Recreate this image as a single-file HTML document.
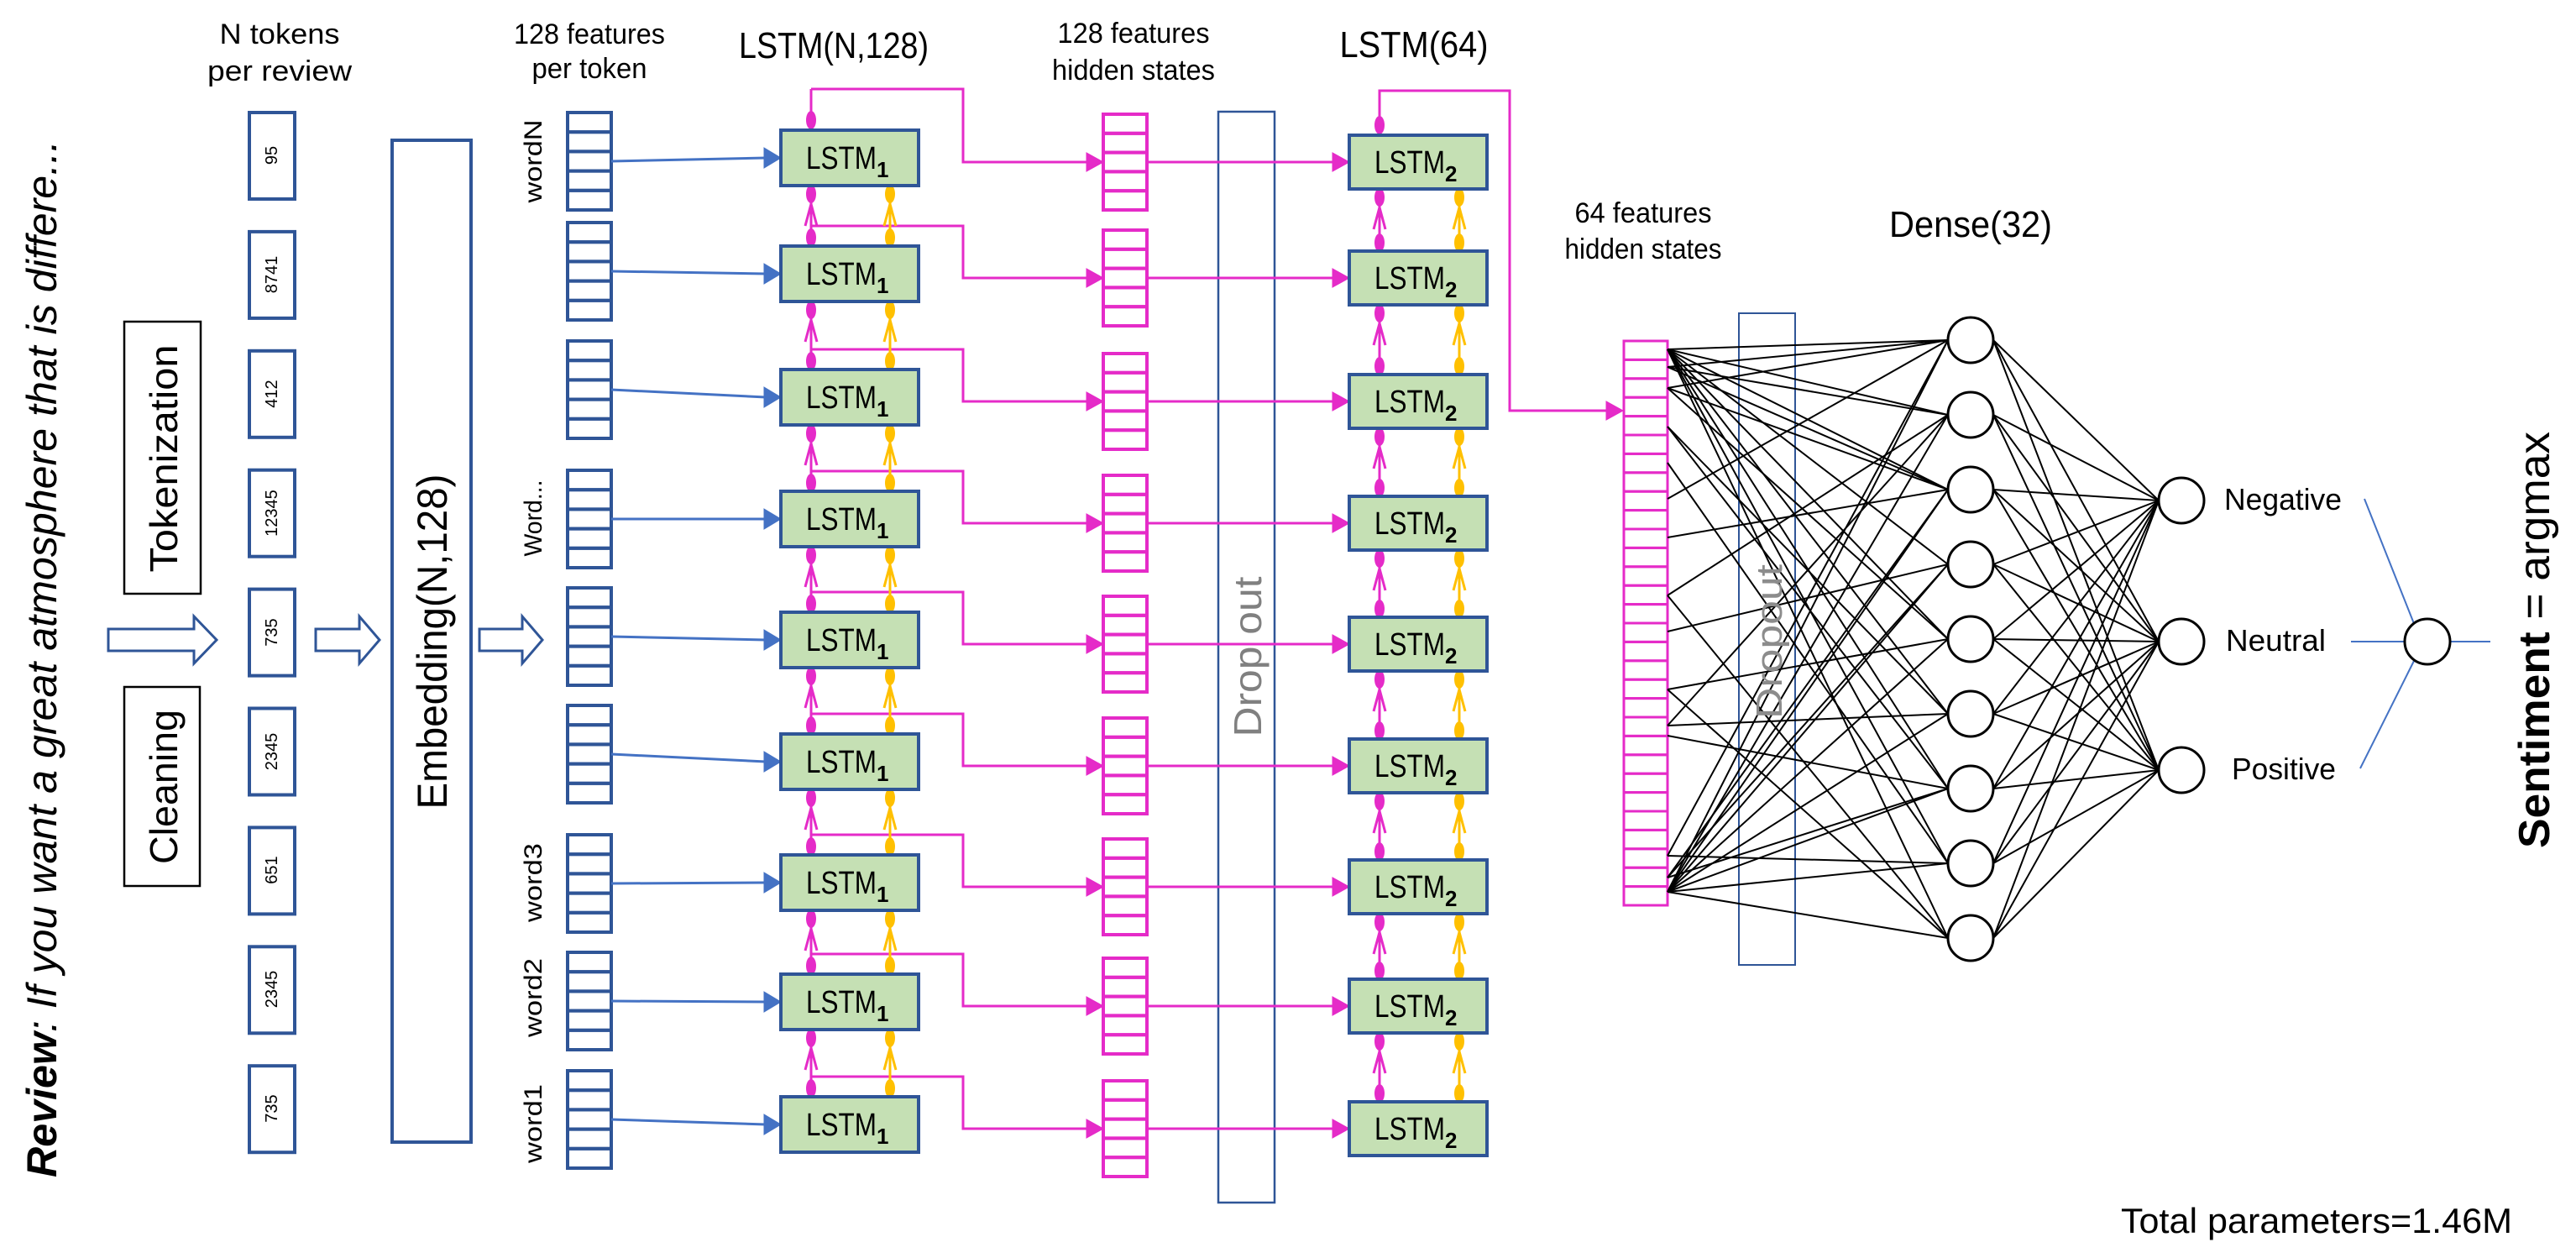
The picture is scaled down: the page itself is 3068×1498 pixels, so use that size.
<!DOCTYPE html>
<html><head><meta charset="utf-8"><style>
html,body{margin:0;padding:0;background:#fff;}
svg{display:block;font-family:"Liberation Sans",sans-serif;}
</style></head><body>
<svg id="s" width="3068" height="1498" viewBox="0 0 3068 1498" xmlns="http://www.w3.org/2000/svg">
<rect width="3068" height="1498" fill="#fff"/>
<g id="shapes"></g>
<g id="txt" fill="#000" lengthAdjust="spacingAndGlyphs">
<text transform="translate(67,1402) rotate(-90)" font-size="50" font-style="italic" textLength="1235" lengthAdjust="spacingAndGlyphs"><tspan font-weight="bold">Review</tspan>: If you want a great atmosphere that is differe...</text>
<text transform="translate(211,546) rotate(-90)" font-size="46" text-anchor="middle" textLength="271" lengthAdjust="spacingAndGlyphs">Tokenization</text>
<text transform="translate(211,937) rotate(-90)" font-size="46" text-anchor="middle" textLength="184" lengthAdjust="spacingAndGlyphs">Cleaning</text>
<text transform="translate(532,764) rotate(-90)" font-size="50" text-anchor="middle" textLength="399" lengthAdjust="spacingAndGlyphs">Embedding(N,128)</text>
<text transform="translate(3036,762) rotate(-90)" font-size="52" text-anchor="middle" textLength="496" lengthAdjust="spacingAndGlyphs"><tspan font-weight="bold">Sentiment</tspan> = argmax</text>

<g font-size="20" text-anchor="middle" dominant-baseline="central">
<text transform="translate(324,185) rotate(-90)">95</text>
<text transform="translate(324,327) rotate(-90)">8741</text>
<text transform="translate(324,469) rotate(-90)">412</text>
<text transform="translate(324,611) rotate(-90)">12345</text>
<text transform="translate(324,753) rotate(-90)">735</text>
<text transform="translate(324,895) rotate(-90)">2345</text>
<text transform="translate(324,1036) rotate(-90)">651</text>
<text transform="translate(324,1178) rotate(-90)">2345</text>
<text transform="translate(324,1320) rotate(-90)">735</text>
</g>

<g font-size="30" text-anchor="middle">
<text transform="translate(645,192) rotate(-90)" textLength="99" lengthAdjust="spacingAndGlyphs">wordN</text>
<text transform="translate(645,617) rotate(-90)" textLength="91" lengthAdjust="spacingAndGlyphs">Word...</text>
<text transform="translate(645,1051) rotate(-90)" textLength="94" lengthAdjust="spacingAndGlyphs">word3</text>
<text transform="translate(645,1188) rotate(-90)" textLength="94" lengthAdjust="spacingAndGlyphs">word2</text>
<text transform="translate(645,1338) rotate(-90)" textLength="94" lengthAdjust="spacingAndGlyphs">word1</text>
</g>

<text transform="translate(1502,782) rotate(-90)" font-size="46" fill="#808080" text-anchor="middle" textLength="191" lengthAdjust="spacingAndGlyphs">Drop out</text>

<g text-anchor="middle" font-size="34">
<text x="333" y="52" textLength="143" lengthAdjust="spacingAndGlyphs">N tokens</text>
<text x="333" y="96" textLength="172" lengthAdjust="spacingAndGlyphs">per review</text>
<text x="702" y="52" textLength="180" lengthAdjust="spacingAndGlyphs">128 features</text>
<text x="702" y="93" textLength="137" lengthAdjust="spacingAndGlyphs">per token</text>
<text x="1350" y="51" textLength="181" lengthAdjust="spacingAndGlyphs">128 features</text>
<text x="1350" y="95" textLength="194" lengthAdjust="spacingAndGlyphs">hidden states</text>
<text x="1957" y="265" textLength="163" lengthAdjust="spacingAndGlyphs">64 features</text>
<text x="1957" y="308" textLength="187" lengthAdjust="spacingAndGlyphs">hidden states</text>
<text x="993" y="69" font-size="44" textLength="226" lengthAdjust="spacingAndGlyphs">LSTM(N,128)</text>
<text x="1684" y="68" font-size="44" textLength="177" lengthAdjust="spacingAndGlyphs">LSTM(64)</text>
<text x="2347" y="282" font-size="44" textLength="194" lengthAdjust="spacingAndGlyphs">Dense(32)</text>
</g>
<g font-size="36">
<text x="2649" y="607" textLength="140" lengthAdjust="spacingAndGlyphs">Negative</text>
<text x="2651" y="775" textLength="119" lengthAdjust="spacingAndGlyphs">Neutral</text>
<text x="2658" y="928" textLength="124" lengthAdjust="spacingAndGlyphs">Positive</text>
</g>
<text x="2526" y="1468" font-size="42" textLength="466" lengthAdjust="spacingAndGlyphs">Total parameters=1.46M</text>

<g font-size="38" id="lstmlabels">
<text x="960" y="201"><tspan textLength="84" lengthAdjust="spacingAndGlyphs">LSTM</tspan><tspan font-size="26" font-weight="bold" dy="10">1</tspan></text>
<text x="960" y="339"><tspan textLength="84" lengthAdjust="spacingAndGlyphs">LSTM</tspan><tspan font-size="26" font-weight="bold" dy="10">1</tspan></text>
<text x="960" y="486"><tspan textLength="84" lengthAdjust="spacingAndGlyphs">LSTM</tspan><tspan font-size="26" font-weight="bold" dy="10">1</tspan></text>
<text x="960" y="631"><tspan textLength="84" lengthAdjust="spacingAndGlyphs">LSTM</tspan><tspan font-size="26" font-weight="bold" dy="10">1</tspan></text>
<text x="960" y="775"><tspan textLength="84" lengthAdjust="spacingAndGlyphs">LSTM</tspan><tspan font-size="26" font-weight="bold" dy="10">1</tspan></text>
<text x="960" y="920"><tspan textLength="84" lengthAdjust="spacingAndGlyphs">LSTM</tspan><tspan font-size="26" font-weight="bold" dy="10">1</tspan></text>
<text x="960" y="1064"><tspan textLength="84" lengthAdjust="spacingAndGlyphs">LSTM</tspan><tspan font-size="26" font-weight="bold" dy="10">1</tspan></text>
<text x="960" y="1206"><tspan textLength="84" lengthAdjust="spacingAndGlyphs">LSTM</tspan><tspan font-size="26" font-weight="bold" dy="10">1</tspan></text>
<text x="960" y="1352"><tspan textLength="84" lengthAdjust="spacingAndGlyphs">LSTM</tspan><tspan font-size="26" font-weight="bold" dy="10">1</tspan></text>
<text x="1637" y="206"><tspan textLength="84" lengthAdjust="spacingAndGlyphs">LSTM</tspan><tspan font-size="26" font-weight="bold" dy="10">2</tspan></text>
<text x="1637" y="344"><tspan textLength="84" lengthAdjust="spacingAndGlyphs">LSTM</tspan><tspan font-size="26" font-weight="bold" dy="10">2</tspan></text>
<text x="1637" y="491"><tspan textLength="84" lengthAdjust="spacingAndGlyphs">LSTM</tspan><tspan font-size="26" font-weight="bold" dy="10">2</tspan></text>
<text x="1637" y="636"><tspan textLength="84" lengthAdjust="spacingAndGlyphs">LSTM</tspan><tspan font-size="26" font-weight="bold" dy="10">2</tspan></text>
<text x="1637" y="780"><tspan textLength="84" lengthAdjust="spacingAndGlyphs">LSTM</tspan><tspan font-size="26" font-weight="bold" dy="10">2</tspan></text>
<text x="1637" y="925"><tspan textLength="84" lengthAdjust="spacingAndGlyphs">LSTM</tspan><tspan font-size="26" font-weight="bold" dy="10">2</tspan></text>
<text x="1637" y="1069"><tspan textLength="84" lengthAdjust="spacingAndGlyphs">LSTM</tspan><tspan font-size="26" font-weight="bold" dy="10">2</tspan></text>
<text x="1637" y="1211"><tspan textLength="84" lengthAdjust="spacingAndGlyphs">LSTM</tspan><tspan font-size="26" font-weight="bold" dy="10">2</tspan></text>
<text x="1637" y="1357"><tspan textLength="84" lengthAdjust="spacingAndGlyphs">LSTM</tspan><tspan font-size="26" font-weight="bold" dy="10">2</tspan></text>
</g>
</g>
<text transform="translate(2122,764) rotate(-90)" font-size="44" fill="#8c8c8c" text-anchor="middle" textLength="184" lengthAdjust="spacingAndGlyphs">Dropout</text>
</svg>
<script>
(function(){
var NS="http://www.w3.org/2000/svg";
var G=document.getElementById("shapes");
var front=document.createElementNS(NS,"g");
function el(t,a,p){var e=document.createElementNS(NS,t);for(var k in a)e.setAttribute(k,a[k]);(p||G).appendChild(e);return e;}
function line(x1,y1,x2,y2,c,w,p){return el("line",{x1:x1,y1:y1,x2:x2,y2:y2,stroke:c,"stroke-width":w},p);}
function rect(x,y,w,h,s,sw,f,p){return el("rect",{x:x,y:y,width:w,height:h,stroke:s,"stroke-width":sw,fill:f||"none"},p);}
function poly(pts,s,sw,f,p){return el("polygon",{points:pts,stroke:s,"stroke-width":sw,fill:f},p);}
function path(d,s,sw,p){return el("path",{d:d,stroke:s,"stroke-width":sw,fill:"none"},p);}
function arrowR(x,y,c){poly((x-20)+","+(y-11)+" "+x+","+y+" "+(x-20)+","+(y+11),c,1,c);}
var BL="#2F5597",BA="#4472C4",MG="#E52BC8",YL="#FFC000",GR="#C5E0B4";

// hollow block arrows
function block(x0,xh,x1,cy){poly(x0+","+(cy-13)+" "+xh+","+(cy-13)+" "+xh+","+(cy-28)+" "+x1+","+cy+" "+xh+","+(cy+28)+" "+xh+","+(cy+13)+" "+x0+","+(cy+13),BL,3,"#fff");}
block(129,231,258,762);block(376,428,452,762);block(571,622,646,762);

// cleaning/tokenization boxes
rect(148,383,91,324,"#000",2.5);rect(148,818,90,237,"#000",2.5);
// token boxes
for(var i=0;i<9;i++){rect(297,134+i*141.9,54,103,BL,4);}
// embedding
rect(467,167,94,1193,BL,4);

var B=[134,265,406,560,700,840,994,1134,1275];
var T1=[155,293,440,585,729,874,1018,1160,1306];
var T2=T1.map(function(v){return v+6;});
var C2=T2.map(function(v){return v+32;});

// blue feature columns + arrows
for(i=0;i<9;i++){
  var h=116;
  for(var k=0;k<5;k++)rect(676,B[i]+k*h/5,52,h/5,BL,4);
  var yc=B[i]+h/2, yt=T1[i]+33;
  line(728,yc,912,yt,BA,3);
  poly("910,"+(yt-12)+" 930,"+yt+" 910,"+(yt+12),BA,1,BA);
}

// dropout 1
rect(1451,133,67,1299,BL,2.5);

// hidden columns (magenta)
for(i=0;i<9;i++){
  var ht=C2[i]-57;
  for(k=0;k<5;k++)rect(1314,ht+k*22.8,52,22.8,MG,4);
}

// LSTM1 routing
for(i=0;i<9;i++){
  var y0 = i==0 ? 106 : T1[i]-24;
  if(i==0){ line(966,T1[0]-12,966,106,MG,3); }
  path("M966 "+y0+" H1147 V"+C2[i]+" H1296",MG,3);
  arrowR(1314,C2[i],MG);
  // hidden -> LSTM2
  line(1366,C2[i],1590,C2[i],MG,3);
  arrowR(1607,C2[i],MG);
}
// LSTM2 top route
path("M1643 "+(T2[0]-12)+" V108 H1798 V489 H1915",MG,3);
arrowR(1933,489,MG);

// vertical connections
function vert(T,H,xm,xy){
  for(var i=0;i<9;i++){
    var top=T[i],bot=T[i]+H;
    if(i<8){
      var nt=T[i+1];
      [[xm,MG],[xy,YL]].forEach(function(q){
        var x=q[0],c=q[1];
        line(x,bot,x,nt,c,3);
        el("ellipse",{cx:x,cy:bot+10,rx:6,ry:11,fill:c});
        el("ellipse",{cx:x,cy:nt-10,rx:6,ry:11,fill:c});
        path("M"+(x-7)+" "+(bot+48)+" L"+x+" "+(bot+22)+" L"+(x+7)+" "+(bot+48),c,3);
      });
    }
    if(i==0){el("ellipse",{cx:xm,cy:top-12,rx:6,ry:11,fill:MG});}
  }
}
vert(T1,66,966,1060);
vert(T2,64,1643,1738);
// LSTM boxes
for(i=0;i<9;i++){rect(930,T1[i],164,66,BL,4,GR);rect(1607,T2[i],164,64,BL,4,GR);}

// 64 features column
for(k=0;k<30;k++)rect(1934,406+k*22.4,52,22.4,MG,3);
// dropout 2
rect(2071,373,67,776,BL,2);

// dense connections
var D=[];for(i=0;i<9;i++)D.push(405+89*i);
var conns=[[416,[0,1,2,3,4,5,6,7,8]],[1062,[0,1,2,3,4,5,6,7,8]],[437,[0,1,2]],[462,[0,2,4]],[508,[5,6]],[551,[7]],[594,[0]],[640,[2]],[709,[1,8]],[752,[3]],[821,[4,8]],[864,[5,1]],[876,[6]],[1019,[7,0]],[1045,[2,3,6]]];
conns.forEach(function(c){c[1].forEach(function(j){line(1986,c[0],2320,D[j],"#000",2);});});
var O=[596,764,917];
for(i=0;i<9;i++)for(k=0;k<3;k++)line(2374,D[i],2571,O[k],"#000",2);
for(i=0;i<9;i++)el("ellipse",{cx:2347,cy:D[i],rx:27,ry:27,fill:"#fff",stroke:"#000","stroke-width":3});
for(k=0;k<3;k++)el("ellipse",{cx:2598,cy:O[k],rx:27,ry:27,fill:"#fff",stroke:"#000","stroke-width":3});
// final
line(2816,594,2876,745,BA,2);line(2800,764,2864,764,BA,2);line(2811,915,2876,785,BA,2);line(2918,764,2966,764,BA,2);
el("ellipse",{cx:2891,cy:764,rx:27,ry:27,fill:"#fff",stroke:"#000","stroke-width":3});
})();
</script>
</body></html>
